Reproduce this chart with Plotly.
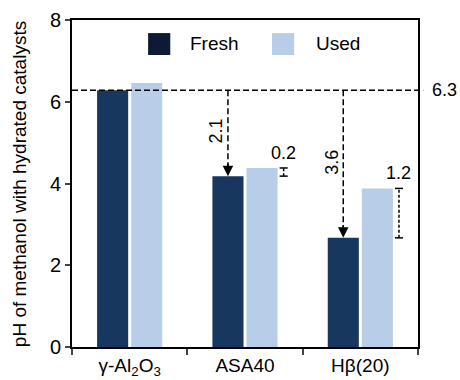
import plotly.graph_objects as go

# ---- data ----
categories = ["γ-Al<sub>2</sub>O<sub>3</sub>", "ASA40", "Hβ(20)"]
fresh = [6.28, 4.18, 2.67]
used = [6.46, 4.38, 3.88]
reference_ph = 6.28
reference_label = "6.3"
drop_labels = ["2.1", "3.6"]      # reference - fresh (ASA40, Hβ(20))
rise_labels = ["0.2", "1.2"]      # used - fresh (ASA40, Hβ(20))

FRESH_C = "#17375e"
USED_C = "#b8cde8"
LEG_FRESH_C = "#0d1a33"
FONT = "Arial, Liberation Sans, sans-serif"

fig = go.Figure()
fig.add_trace(go.Bar(x=categories, y=fresh, name="Fresh", marker_color=FRESH_C,
                     marker_line_width=0, showlegend=False))
fig.add_trace(go.Bar(x=categories, y=used, name="Used", marker_color=USED_C,
                     marker_line_width=0, showlegend=False))

off = 0.148   # half slot offset in category units
shapes = []
annotations = []

# reference dashed line
shapes.append(dict(type="line", xref="paper", yref="y", x0=0, x1=1.015,
                   y0=reference_ph, y1=reference_ph,
                   line=dict(color="black", width=1.5, dash="6px,3px")))
annotations.append(dict(xref="paper", yref="y", x=1.035, y=reference_ph, text=reference_label,
                        showarrow=False, xanchor="left", yanchor="middle",
                        font=dict(size=18, family=FONT, color="black")))

for k, i in enumerate([1, 2]):
    xc = i - off
    top = fresh[i]
    # dashed vertical line down to arrowhead
    shapes.append(dict(type="line", xref="x", yref="y", x0=xc, x1=xc,
                       y0=reference_ph, y1=top + 0.25,
                       line=dict(color="black", width=1.5, dash="6px,3px")))
    annotations.append(dict(xref="x", yref="y", x=xc, y=top, ax=0, ay=-14,
                            axref="pixel", ayref="pixel", text="", showarrow=True,
                            arrowhead=2, arrowsize=1.4, arrowwidth=1.5, arrowcolor="black",
                            standoff=0))
    annotations.append(dict(xref="x", yref="y", x=xc - 0.1,
                            y=(reference_ph + top) / 2 + 0.05,
                            text=drop_labels[k], textangle=-90, showarrow=False,
                            xanchor="center", yanchor="middle",
                            font=dict(size=18, family=FONT, color="black")))
    # bracket between fresh and used
    bx = i + 0.335
    cap = 0.035
    shapes.append(dict(type="line", xref="x", yref="y", x0=bx, x1=bx,
                       y0=fresh[i], y1=used[i],
                       line=dict(color="black", width=1.5, dash="3px,2px")))
    for yy in (fresh[i], used[i]):
        shapes.append(dict(type="line", xref="x", yref="y", x0=bx - cap, x1=bx + cap,
                           y0=yy, y1=yy, line=dict(color="black", width=1.5)))
    annotations.append(dict(xref="x", yref="y", x=bx, y=used[i] + 0.08,
                            text=rise_labels[k], showarrow=False,
                            xanchor="center", yanchor="bottom",
                            font=dict(size=18, family=FONT, color="black")))

# custom legend
leg = [("Fresh", LEG_FRESH_C, 0.22, 0.335), ("Used", USED_C, 0.578, 0.70)]
for name, col, x0, tx in leg:
    shapes.append(dict(type="rect", xref="paper", yref="paper", x0=x0, x1=x0 + 0.064,
                       y0=0.893, y1=0.96, fillcolor=col, line=dict(width=0)))
    annotations.append(dict(xref="paper", yref="paper", x=tx, y=0.927, text=name,
                            showarrow=False, xanchor="left", yanchor="middle",
                            font=dict(size=19, family=FONT, color="black")))

# y-axis title
annotations.append(dict(xref="paper", yref="paper", x=0, y=0.498, xshift=-53,
                        text="pH of methanol with hydrated catalysts", textangle=-90,
                        showarrow=False, xanchor="center", yanchor="middle",
                        font=dict(size=19, family=FONT, color="black")))

fig.update_layout(
    width=460, height=380,
    margin=dict(l=72, r=42, t=20, b=33),
    paper_bgcolor="white", plot_bgcolor="white",
    barmode="group", bargap=0.409, bargroupgap=0.088,
    font=dict(family=FONT, size=19, color="black"),
    shapes=shapes, annotations=annotations,
    showlegend=False,
)
fig.update_xaxes(type="category", tickson="boundaries", ticks="outside", ticklen=6,
                 tickwidth=1.5, showline=True, linecolor="black", linewidth=1.8,
                 mirror=True, showgrid=False, tickfont=dict(size=19), automargin=False)
fig.update_yaxes(range=[0, 8], dtick=2, ticks="outside", ticklen=5, tickwidth=1.5,
                 showline=True, linecolor="black", linewidth=1.8, mirror=True,
                 showgrid=False, zeroline=False, tickfont=dict(size=20), automargin=False)

fig.write_html("out.html", config={"displayModeBar": False},
               post_script="document.body.style.margin='0';document.body.style.overflow='hidden';")
